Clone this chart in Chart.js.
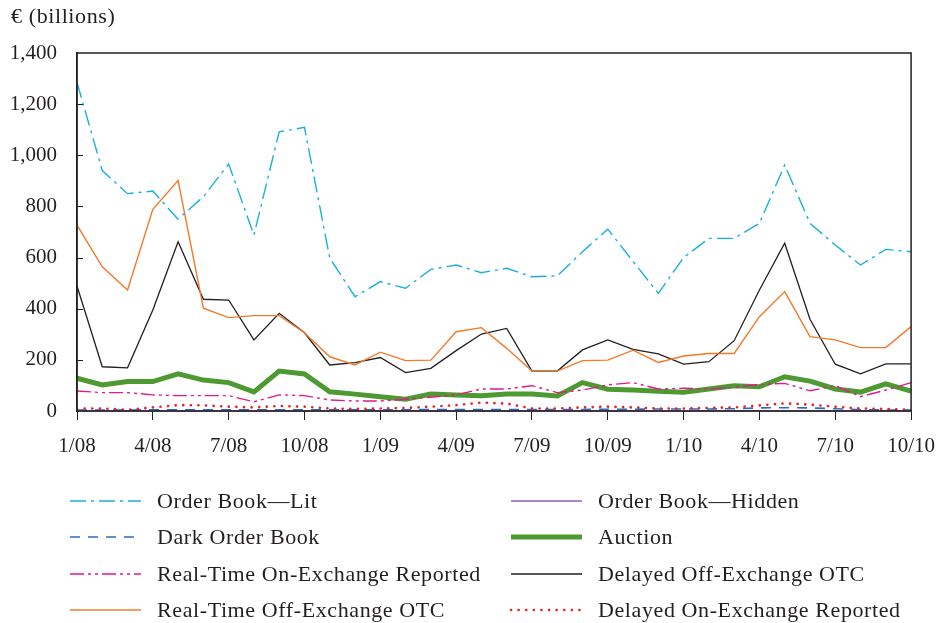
<!DOCTYPE html>
<html>
<head>
<meta charset="utf-8">
<script src="https://cdn.jsdelivr.net/npm/chart.js@4"></script>
<style>
  body { margin: 0; background: #fff; }
  #chart { display: block; }
</style>
</head>
<body>
<canvas id="chart" width="949" height="623"></canvas>
<script>
// Months 1/08 .. 10/10
const months = [
    '1/08','2/08','3/08','4/08','5/08','6/08','7/08','8/08','9/08','10/08','11/08','12/08',
    '1/09','2/09','3/09','4/09','5/09','6/09','7/09','8/09','9/09','10/09','11/09','12/09',
    '1/10','2/10','3/10','4/10','5/10','6/10','7/10','8/10','9/10','10/10'
];
const yTicks = [0, 200, 400, 600, 800, 1000, 1200, 1400];

// € billions per month
const orderBookLit = [1285, 940, 850, 860, 750, 838, 966, 688, 1092, 1109, 598, 447,
    506, 480, 554, 571, 541, 558, 525, 528, 623, 711, 585, 460,
    600, 675, 675, 734, 962, 734, 649, 571, 632, 623];
const rtOffExOtc = [727, 564, 473, 789, 901, 402, 365, 373, 373, 306, 212, 180,
    230, 197, 199, 310, 326, 245, 156, 156, 197, 199, 238, 190,
    215, 225, 225, 369, 467, 291, 278, 248, 248, 330];
const delayedOffExOtc = [489, 173, 169, 395, 662, 437, 434, 278, 382, 306, 180, 189,
    209, 150, 167, 236, 301, 323, 156, 156, 239, 278, 241, 223,
    183, 193, 275, 473, 656, 359, 183, 145, 184, 184];
const rtOnExReported = [78, 72, 72, 63, 60, 60, 60, 36, 63, 60, 43, 39,
    39, 46, 54, 63, 86, 86, 99, 72, 82, 102, 111, 86,
    89, 86, 93, 104, 108, 79, 99, 56, 82, 111];
const auction = [128, 102, 115, 115, 145, 121, 111, 75, 156, 145, 75, 66,
    56, 46, 66, 63, 60, 66, 66, 59, 111, 85, 82, 77,
    73, 86, 99, 95, 134, 117, 86, 74, 106, 78];
const delayedOnExReported = [10, 10, 5, 14, 23, 22, 17, 14, 20, 17, 10, 8,
    10, 12, 17, 23, 33, 29, 10, 10, 14, 17, 14, 10,
    10, 12, 14, 22, 30, 25, 17, 10, 8, 5];
const darkOrderBook = [4, 4, 4, 5, 5, 5, 5, 5, 5, 5, 5, 5,
    5, 5, 6, 6, 6, 6, 6, 6, 6, 7, 7, 8,
    8, 8, 9, 12, 13, 12, 9, 5, 4, 4];
const orderBookHidden = [1, 1, 1, 1, 1, 1, 1, 1, 1, 1, 1, 1,
    1, 1, 1, 1, 1, 1, 1, 1, 1, 1, 1, 1,
    1, 1, 1, 1, 1, 1, 1, 1, 1, 1];

const FONT = '"Liberation Serif", "DejaVu Serif", serif';
const TEXT = '#231f20';

function line(label, data, color, width, dash, legendCol, legendRow, extra) {
    return Object.assign({
        label, data,
        borderColor: color,
        backgroundColor: color,
        borderWidth: width,
        borderDash: dash,
        pointRadius: 0,
        tension: 0,
        fill: false,
        legendCol, legendRow
    }, extra || {});
}

const datasets = [
    line('Order Book\u2014Lit', orderBookLit, '#1ab0dc', 1.4, [16, 5, 3, 5], 0, 0),
    line('Real-Time Off-Exchange OTC', rtOffExOtc, '#f47a2a', 1.4, [], 0, 3),
    line('Delayed Off-Exchange OTC', delayedOffExOtc, '#231f20', 1.3, [], 1, 2),
    line('Real-Time On-Exchange Reported', rtOnExReported, '#e6198a', 1.4, [14, 4, 3, 4, 3, 4], 0, 2),
    line('Auction', auction, '#4e9a32', 5, [], 1, 1),
    line('Delayed On-Exchange Reported', delayedOnExReported, '#e8202a', 2.6, [0.1, 7.5], 1, 3, { borderCapStyle: 'round' }),
    line('Dark Order Book', darkOrderBook, '#2a6ebb', 1.6, [10, 8], 0, 1),
    line('Order Book\u2014Hidden', orderBookHidden, '#8c5fc9', 1.3, [], 1, 0)
];

// frame, inner y ticks, unit title and the two-column legend
const extrasPlugin = {
    id: 'extras',
    afterDraw(chart) {
        const ctx = chart.ctx;
        const a = chart.chartArea;
        const yScale = chart.scales.y;
        ctx.save();
        ctx.strokeStyle = TEXT;
        ctx.lineWidth = 1.5;
        ctx.setLineDash([]);
        ctx.strokeRect(a.left, a.top, a.right - a.left, a.bottom - a.top);

        ctx.lineWidth = 1;
        yTicks.forEach(v => {
            if (v === 0 || v === 1400) return;
            const y = Math.round(yScale.getPixelForValue(v)) + 0.5;
            ctx.beginPath();
            ctx.moveTo(a.left, y);
            ctx.lineTo(a.left + 6, y);
            ctx.stroke();
        });

        ctx.fillStyle = TEXT;
        ctx.font = '22px ' + FONT;
        ctx.letterSpacing = '0.6px';
        ctx.textBaseline = 'middle';
        ctx.textAlign = 'left';
        ctx.fillText('\u20ac (billions)', 11, 17);

        const colX = [70, 511];
        const rowY = [501, 537, 574, 610];
        chart.data.datasets.forEach(ds => {
            const x = colX[ds.legendCol];
            const y = rowY[ds.legendRow];
            ctx.beginPath();
            ctx.strokeStyle = ds.borderColor;
            ctx.lineWidth = ds.borderWidth;
            ctx.lineCap = ds.borderCapStyle || 'butt';
            ctx.setLineDash(ds.borderDash);
            ctx.moveTo(x, y);
            ctx.lineTo(x + 71, y);
            ctx.stroke();
            ctx.setLineDash([]);
            ctx.fillStyle = TEXT;
            ctx.fillText(ds.label, x + 87, y + 1);
        });
        ctx.restore();
    }
};

new Chart(document.getElementById('chart'), {
    type: 'line',
    data: { labels: months, datasets: datasets },
    plugins: [extrasPlugin],
    options: {
        responsive: false,
        animation: false,
        devicePixelRatio: 1,
        layout: { padding: { top: 53, right: 28, bottom: 0, left: 0 } },
        plugins: { legend: { display: false }, tooltip: { enabled: false } },
        scales: {
            x: {
                type: 'category',
                offset: false,
                afterFit: s => { s.height = 212; },
                border: { display: true, color: TEXT, width: 1.5 },
                grid: {
                    drawOnChartArea: false,
                    drawTicks: true,
                    tickLength: 9,
                    color: ctx => (ctx.index % 3 === 0 ? TEXT : 'rgba(0,0,0,0)')
                },
                ticks: {
                    autoSkip: false,
                    maxRotation: 0,
                    padding: 14,
                    color: TEXT,
                    font: { family: FONT, size: 21 },
                    callback: (v, i) => (i % 3 === 0 ? months[i] : '')
                }
            },
            y: {
                min: 0,
                max: 1400,
                afterFit: s => { s.width = 77; },
                border: { display: true, color: TEXT, width: 1.5 },
                grid: { drawOnChartArea: false, drawTicks: false },
                afterBuildTicks: s => { s.ticks = yTicks.map(v => ({ value: v })); },
                ticks: {
                    padding: 20,
                    color: TEXT,
                    font: { family: FONT, size: 21 },
                    callback: v => v.toLocaleString('en-US')
                }
            }
        }
    }
});
</script>
</body>
</html>
